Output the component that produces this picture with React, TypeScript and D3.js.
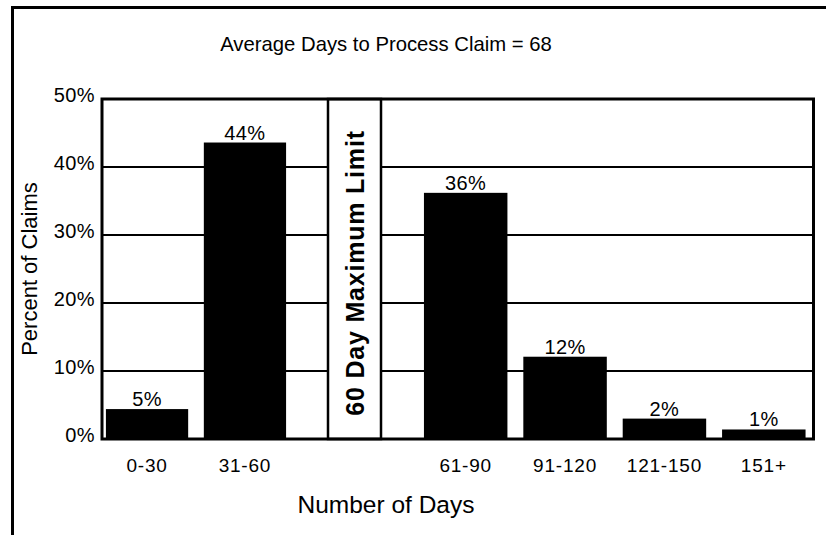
import React from "react";
import * as d3 from "d3";

const withinLimitCategories = ["0-30", "31-60"];
const overLimitCategories = ["61-90", "91-120", "121-150", "151+"];
const barValues = [4.4, 43.6, 36.2, 12.1, 3.0, 1.4];
const barLabels = ["5%", "44%", "36%", "12%", "2%", "1%"];
const yTicks = [0, 10, 20, 30, 40, 50];
const limitLabel = "60 Day Maximum Limit";
const title = "Average Days to Process Claim = 68";
const xTitle = "Number of Days";
const yTitle = "Percent of Claims";

const W = 826;
const H = 535;
const plot = { left: 102, right: 813.5, top: 99, bottom: 439 };
const FONT = "'Liberation Sans', Arial, Helvetica, sans-serif";

export default function App() {
  const barCategories = [...withinLimitCategories, ...overLimitCategories];
  const xLeft = d3
    .scaleBand<string>()
    .domain(withinLimitCategories)
    .range([plot.left, 290])
    .paddingInner(0.16)
    .paddingOuter(0.04);
  const xRight = d3
    .scaleBand<string>()
    .domain(overLimitCategories)
    .range([416, plot.right])
    .paddingInner(0.16)
    .paddingOuter(0.08);
  const xPos = (c: string) =>
    withinLimitCategories.includes(c) ? (xLeft(c) as number) : (xRight(c) as number);
  const bwOf = (c: string) =>
    withinLimitCategories.includes(c) ? xLeft.bandwidth() : xRight.bandwidth();
  const y = d3.scaleLinear().domain([0, 50]).range([plot.bottom, plot.top]);
  const limitCenter = (xLeft.range()[1] + xRight.range()[0]) / 2 + 1.5;
  const limitW = 53;
  const midX = 386;

  return (
    <svg
      width={W}
      height={H}
      viewBox={`0 0 ${W} ${H}`}
      style={{ position: "absolute", left: 0, top: 0, background: "#fff" }}
      fontFamily={FONT}
    >
      <rect x={0} y={0} width={W} height={H} fill="#fff" />
      {/* outer frame (top + left) */}
      <line x1={11} x2={W} y1={7.5} y2={7.5} stroke="#000" strokeWidth={3} />
      <line x1={12.5} x2={12.5} y1={6} y2={H} stroke="#000" strokeWidth={3} />

      {/* title */}
      <text x={midX} y={51} textAnchor="middle" fontSize={20.3} fill="#000">
        {title}
      </text>

      {/* gridlines */}
      {yTicks
        .filter((t) => t > 0 && t < 50)
        .map((t) => (
          <line
            key={"g" + t}
            x1={plot.left}
            x2={plot.right}
            y1={y(t)}
            y2={y(t)}
            stroke="#000"
            strokeWidth={2}
          />
        ))}

      {/* bars */}
      {barCategories.map((c, i) => (
        <rect
          key={c}
          x={xPos(c)}
          y={y(barValues[i])}
          width={bwOf(c)}
          height={y(0) - y(barValues[i])}
          fill="#000"
        />
      ))}

      {/* value labels */}
      {barCategories.map((c, i) => (
        <text
          key={"v" + c}
          x={xPos(c) + bwOf(c) / 2}
          y={y(barValues[i]) - 3}
          textAnchor="middle"
          fontSize={20}
          letterSpacing={0.4}
          fill="#000"
        >
          {barLabels[i]}
        </text>
      ))}

      {/* limit box */}
      <rect
        x={limitCenter - limitW / 2}
        y={plot.top}
        width={limitW}
        height={plot.bottom - plot.top}
        fill="#fff"
        stroke="#000"
        strokeWidth={2.5}
      />
      <text
        transform={`translate(${limitCenter + 9},${(plot.top + plot.bottom) / 2 + 4}) rotate(-90)`}
        textAnchor="middle"
        fontSize={25}
        fontWeight="bold"
        letterSpacing={0.8}
        fill="#000"
      >
        {limitLabel}
      </text>

      {/* plot frame */}
      <rect
        x={plot.left}
        y={plot.top}
        width={plot.right - plot.left}
        height={plot.bottom - plot.top}
        fill="none"
        stroke="#000"
        strokeWidth={3}
      />

      {/* y tick labels */}
      {yTicks.map((t) => (
        <text
          key={"y" + t}
          x={95}
          y={y(t) + 3}
          textAnchor="end"
          fontSize={20}
          letterSpacing={0.4}
          fill="#000"
        >
          {t + "%"}
        </text>
      ))}

      {/* x tick labels */}
      {barCategories.map((c) => (
        <text
          key={"x" + c}
          x={xPos(c) + bwOf(c) / 2}
          y={plot.bottom + 33}
          textAnchor="middle"
          fontSize={19}
          letterSpacing={0.8}
          fill="#000"
        >
          {c}
        </text>
      ))}

      {/* axis titles */}
      <text x={midX} y={513} textAnchor="middle" fontSize={24.5} fill="#000">
        {xTitle}
      </text>
      <text
        transform={`translate(37,${(plot.top + plot.bottom) / 2}) rotate(-90)`}
        textAnchor="middle"
        fontSize={22}
        fill="#000"
      >
        {yTitle}
      </text>
    </svg>
  );
}
